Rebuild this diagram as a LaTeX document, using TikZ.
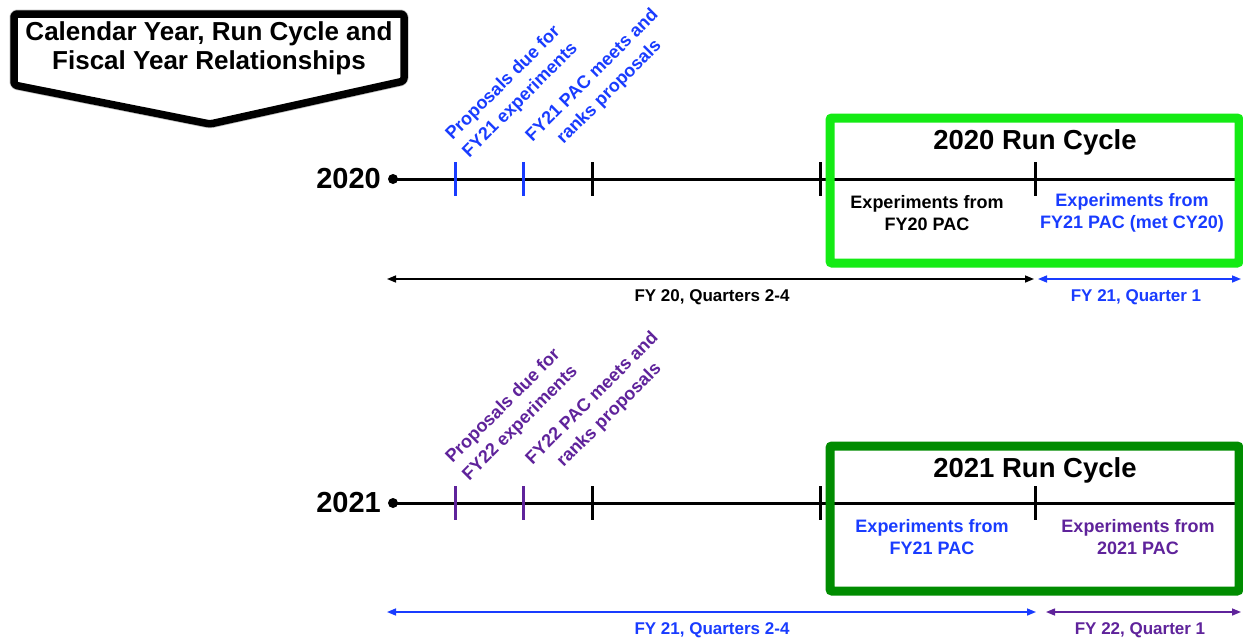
\documentclass[tikz,border=0pt]{standalone}
\usepackage{fontspec}
\setmainfont{Liberation Sans}
\usetikzlibrary{arrows.meta}
\definecolor{pacblue}{RGB}{25,60,255}
\definecolor{pacpurple}{RGB}{95,35,155}
\definecolor{runlime}{RGB}{20,235,20}
\definecolor{rungreen}{RGB}{0,140,0}
\tikzset{
  titlelbl/.style={align=center,font=\fontsize{26}{29}\selectfont\bfseries},
  yearlbl/.style={anchor=east,inner sep=0pt,font=\fontsize{29}{34}\selectfont\bfseries},
  duelbl/.style={rotate=45,align=center,inner sep=0pt,font=\fontsize{18}{24}\selectfont\bfseries},
  explbl/.style={align=center,font=\fontsize{18}{22}\selectfont\bfseries},
  runlbl/.style={font=\fontsize{27.5}{32}\selectfont\bfseries},
  fylbl/.style={font=\fontsize{17}{20}\selectfont\bfseries},
  timeline/.style={line width=3pt},
  tickmark/.style={line width=3pt},
  runbox/.style={line width=9pt,rounded corners=2pt},
  fyarrow/.style={line width=1.5pt,{Triangle[length=9pt,width=7pt]}-{Triangle[length=9pt,width=7pt]}},
}
\begin{document}
\begin{tikzpicture}[x=1pt,y=-1pt]
  \useasboundingbox[fill=white] (0,0) rectangle (1243,641);
  % title banner
  \coordinate (bnw) at (14,14);
  \coordinate (bne) at (404,14);
  \coordinate (bse) at (404,81);
  \coordinate (btip) at (210,124);
  \coordinate (bsw) at (14,85);
  \draw[line width=9pt,black!25,line join=round,rounded corners=3pt,shift={(1.5pt,-3pt)}]
    (bnw) -- (bne) -- (bse) -- (btip) -- (bsw) -- cycle;
  \draw[line width=7.5pt,fill=white,line join=round,rounded corners=3pt]
    (bnw) -- (bne) -- (bse) -- (btip) -- (bsw) -- cycle;
  \node[titlelbl] (title) at (209,48) {Calendar Year, Run Cycle and\\Fiscal Year Relationships};

  % 2020
  \node[yearlbl] (y20) at (381,179) {2020};
  \coordinate (t20) at (393,179);
  \coordinate (t20e) at (1237,179);
  \draw[timeline] (t20) -- (t20e);
  \fill (t20) circle (5pt);
  \draw[tickmark,pacblue] (455,162) -- ++(0,34);
  \draw[tickmark,pacblue] (523,162) -- ++(0,34);
  \foreach \x in {592,820,1035}
    \draw[tickmark] (\x,162) -- ++(0,34);
  \node[duelbl,pacblue] (due20) at (512,92) {Proposals due for\\FY21 experiments};
  \node[duelbl,pacblue] (pac20) at (601,84) {FY21 PAC meets and\\ranks proposals};
  \draw[runbox,runlime] (830,118) rectangle (1239,263);
  \node[runlbl] (rc20) at (1035,142) {2020 Run Cycle};
  \node[explbl] (old20) at (927,213) {Experiments from\\FY20 PAC};
  \node[explbl,pacblue] (new20) at (1132,213) {Experiments from\\FY21 PAC (met CY20)};
  \coordinate (fy20a) at (387,279);
  \coordinate (fy20b) at (1034,279);
  \coordinate (fy21a) at (1038,279);
  \coordinate (fy21b) at (1241,279);
  \draw[fyarrow] (fy20a) -- (fy20b);
  \draw[fyarrow,pacblue] (fy21a) -- (fy21b);
  \node[fylbl] (q20) at (712,297) {FY 20, Quarters 2-4};
  \node[fylbl,pacblue] (q21) at (1136,297) {FY 21, Quarter 1};

  % 2021
  \node[yearlbl] (y21) at (381,503) {2021};
  \coordinate (t21) at (393,503);
  \coordinate (t21e) at (1237,503);
  \draw[timeline] (t21) -- (t21e);
  \fill (t21) circle (5pt);
  \draw[tickmark,pacpurple] (455,486) -- ++(0,34);
  \draw[tickmark,pacpurple] (523,486) -- ++(0,34);
  \foreach \x in {592,820,1035}
    \draw[tickmark] (\x,486) -- ++(0,34);
  \node[duelbl,pacpurple] (due21) at (512,415) {Proposals due for\\FY22 experiments};
  \node[duelbl,pacpurple] (pac21) at (601,407) {FY22 PAC meets and\\ranks proposals};
  \draw[runbox,rungreen] (830,446) rectangle (1239,591);
  \node[runlbl] (rc21) at (1035,470) {2021 Run Cycle};
  \node[explbl,pacblue] (old21) at (932,537) {Experiments from\\FY21 PAC};
  \node[explbl,pacpurple] (new21) at (1138,537) {Experiments from\\2021 PAC};
  \coordinate (fy21c) at (387,612);
  \coordinate (fy21d) at (1036,612);
  \coordinate (fy22a) at (1046,612);
  \coordinate (fy22b) at (1241,612);
  \draw[fyarrow,pacblue] (fy21c) -- (fy21d);
  \draw[fyarrow,pacpurple] (fy22a) -- (fy22b);
  \node[fylbl,pacblue] (q21b) at (712,630) {FY 21, Quarters 2-4};
  \node[fylbl,pacpurple] (q22) at (1140,630) {FY 22, Quarter 1};
\end{tikzpicture}
\end{document}
